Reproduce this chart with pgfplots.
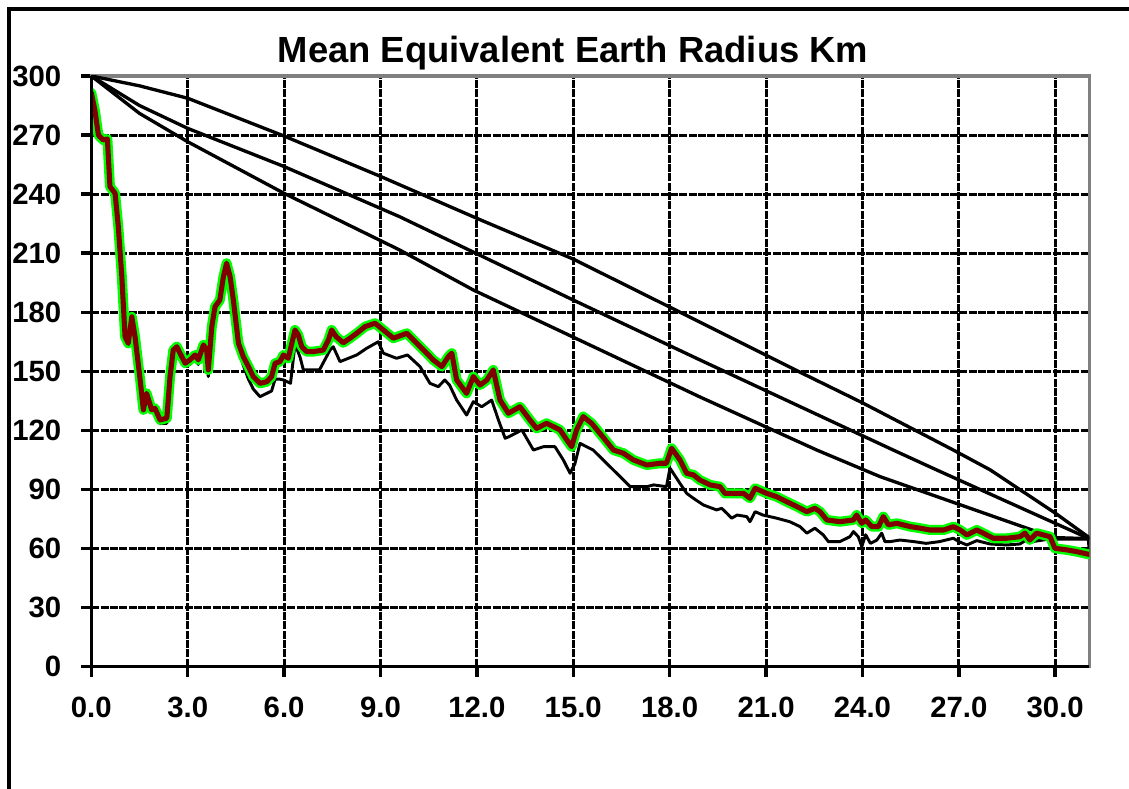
\documentclass[border=0pt]{standalone}
\usepackage{pgfplots}
\pgfplotsset{compat=1.18}
\usepackage{pgfplotstable}
\usepackage{fontspec}
\setmainfont{Liberation Sans}

\definecolor{darkred}{RGB}{128,0,0}
\definecolor{lgreen}{RGB}{0,255,0}
\definecolor{bordergray}{RGB}{128,128,128}

\pgfplotstableread{
x y
0 300
1.5 295
3 288.7
6 269.5
9 249
12.1 227
15 207
18.94 175
22 150
24 134
26.83 110
27.97 100
30 78
31.06 65.5
}\lineC

\pgfplotstableread{
x y
0 300
1.5 285
3 273.4
6 254
9.6 228.5
15 186.2
18.94 155.8
24.96 110
26.31 99.9
31.06 65
}\lineB

\pgfplotstableread{
x y
0 300
1.5 281
3 266.6
6 240.4
9.6 211.6
11.89 191.3
18.94 137
22.58 110
24.55 96.5
29.42 68.6
30.05 65.5
31.06 65
}\lineA

\pgfplotstableread{
x y
0 291.5
0.11 282.7
0.22 270
0.37 267.5
0.5 268
0.58 243.8
0.74 240.4
0.84 223.5
0.95 198
1.05 167.6
1.15 164.2
1.26 177.7
1.36 167.6
1.52 145.6
1.62 130.4
1.72 138.8
1.88 130.4
1.98 131.2
2.14 125.3
2.35 126.2
2.45 147.3
2.55 160.8
2.66 162.5
2.76 159.2
2.92 154.1
3.07 155.8
3.23 158.3
3.33 155.8
3.49 163.4
3.59 160.8
3.64 150.7
3.75 172.7
3.85 182.8
4.0 186.2
4.11 198
4.21 204.9
4.32 198
4.42 186.2
4.58 164.2
4.73 157.4
4.89 152.4
5.04 147.3
5.25 143.9
5.46 144.7
5.61 147.3
5.72 154.1
5.87 154.9
5.98 158.3
6.13 156.6
6.24 164.2
6.34 171
6.44 168.5
6.55 162.5
6.70 160
6.91 160
7.22 160.8
7.38 165.9
7.48 171
7.62 167.6
7.84 164.5
8.05 166.8
8.26 169.3
8.52 172.7
8.83 174.4
9.09 171
9.40 166.8
9.82 169.3
10.13 164.2
10.44 159.2
10.64 155.8
10.91 152.4
11.11 157.4
11.22 159.2
11.37 145.6
11.68 138.8
11.89 147.3
12.10 143
12.31 145.6
12.51 150.7
12.72 135.4
12.98 128.7
13.34 132
13.65 125.3
13.86 121
14.17 123.6
14.59 120.2
14.80 115.1
14.95 111.7
15.10 120.2
15.31 127
15.57 123.6
15.83 118.5
16.25 110
16.56 108.4
16.87 105
17.29 102.4
17.70 103.3
17.90 103.3
18.06 110.9
18.32 105
18.53 98.2
18.74 97.4
18.94 94.8
19.26 92.3
19.57 91.4
19.72 88
20.30 88
20.50 85.5
20.66 90.6
21.02 88
21.33 86.3
21.64 83.8
21.96 81.3
22.27 78.7
22.52 80.4
22.68 78.7
22.89 74.5
23.30 73.6
23.72 74.5
23.82 77
23.98 72.8
24.10 74.5
24.29 71.1
24.50 71.1
24.65 76.2
24.81 72
25.07 72.8
25.49 71.1
25.80 70.3
26.10 69.4
26.53 69.4
26.83 71.1
27.04 69.4
27.25 66.9
27.56 69.4
27.76 67.8
28.07 65.2
28.49 65.2
28.90 66
29.06 67.8
29.21 64.3
29.42 67.8
29.63 66.9
29.84 66
29.99 60.1
30.36 59.3
30.67 58.4
31.05 57
}\redser

\pgfplotstableread{
x y
0 291
0.11 282
0.22 269
0.37 266.5
0.5 267
0.58 243
0.74 239.5
0.84 222.5
0.95 197
1.05 166.5
1.15 163
1.26 176.5
1.36 166.5
1.52 144.5
1.62 129
1.72 137.5
1.88 129
1.98 129.5
2.14 123.5
2.35 123.6
2.45 145.5
2.55 159.5
2.66 161
2.76 157.5
2.92 152.5
3.07 153.5
3.23 156.5
3.33 153.5
3.49 161.5
3.59 158
3.64 147.3
3.75 170.5
3.85 180.5
4.0 184
4.11 196
4.21 203
4.32 196
4.42 184
4.58 161
4.73 153
4.89 146
5.04 141
5.25 137.1
5.46 138.8
5.61 140
5.72 146
5.87 146
5.98 145.6
6.2 143.9
6.34 164
6.5 157
6.6 150.7
7.1 150.7
7.43 160.8
7.53 162.5
7.74 154.9
8.26 158.3
8.57 161.7
8.93 165
9.09 159.2
9.5 156.6
9.84 158.3
10.23 152.4
10.54 143.9
10.8 142.2
11.0 145.6
11.15 143
11.37 135.4
11.68 127.8
11.89 134.6
12.15 132
12.46 135.4
12.67 125.3
12.88 116
13.0 116.8
13.4 120.2
13.76 110
14.07 111.7
14.43 111.7
14.69 105
14.9 98.2
15.05 103
15.21 113.4
15.62 110
16.14 101.6
16.46 96.5
16.77 91.4
17.29 91.4
17.5 92.3
17.9 91.4
18.01 100.8
18.32 93.1
18.53 88
18.74 85.5
19.05 82.1
19.46 79.6
19.62 80.4
19.78 77.9
19.93 75.4
20.1 77
20.4 76.2
20.5 73.6
20.66 78.7
20.9 77
21.33 75.4
21.74 73.6
22.06 71.1
22.27 67.8
22.52 70.3
22.78 66.9
22.94 63.5
23.3 63.5
23.61 66
23.72 68.6
23.87 66
23.98 61
24.1 67
24.25 62.6
24.45 64.3
24.6 67.8
24.7 63.5
24.86 63.5
25.17 64.3
25.6 63.5
25.98 62.6
26.4 63.5
26.83 65.2
27.0 63.5
27.25 61.8
27.56 64
27.97 62.3
28.49 61.8
28.9 62.3
29.1 64.3
29.3 63.5
29.74 64.6
30.05 64.8
31.03 64.8
31.06 58
}\blackser

\begin{document}
\begin{tikzpicture}[x=1pt,y=1pt]
\path[use as bounding box] (-68.5,-91.7) rectangle (778.3,500);
\clip (-68.5,-91.7) rectangle (778.3,500);
\fill[white] (-68.5,-91.7) rectangle (778.3,500);
\draw[line width=2.4pt] (-61.7,-120) -- (-61.7,493.3) -- (800,493.3);
\begin{axis}[
  at={(0,0)}, anchor=south west,
  scale only axis, width=748.5pt, height=443pt,
  xmin=0, xmax=31.06, ymin=0, ymax=300,
  xtick={0,3,...,30}, ytick={0,30,...,300},
  /pgf/number format/assume math mode=true,
  xticklabel style={yshift=-12pt, /pgf/number format/.cd, fixed, fixed zerofill, precision=1},
  yticklabel style={xshift=-11.5pt, /pgf/number format/.cd, fixed, precision=0},
  tick label style={font=\fontsize{22}{26}\selectfont\bfseries},
  tick align=outside, major tick length=7.5pt, tick pos=left,
  tick style={black, line width=2.6pt},
  grid=major,
  major grid style={black, line width=2.2pt, dash pattern=on 6pt off 1pt},
  axis line style={bordergray, line width=2.6pt},
  title={Mean Equivalent Earth Radius Km},
  title style={font=\fontsize{27.3}{31}\selectfont\bfseries, at={(0.4827,1)}, anchor=base, yshift=4.2pt},
  no markers,
]
\addplot[black, line width=2.5pt] table {\lineC};
\addplot[black, line width=2.5pt] table {\lineB};
\addplot[black, line width=2.5pt] table {\lineA};
\addplot[black, line width=2.2pt, line join=round] table {\blackser};
\addplot[lgreen, line width=7.5pt, line join=round, line cap=round] table {\redser};
\addplot[darkred, line width=3.8pt, line join=round, line cap=round] table {\redser};
\end{axis}
\draw[black, line width=2.6pt] (0,443) -- (0,0) -- (748.5,0);
\end{tikzpicture}
\end{document}
